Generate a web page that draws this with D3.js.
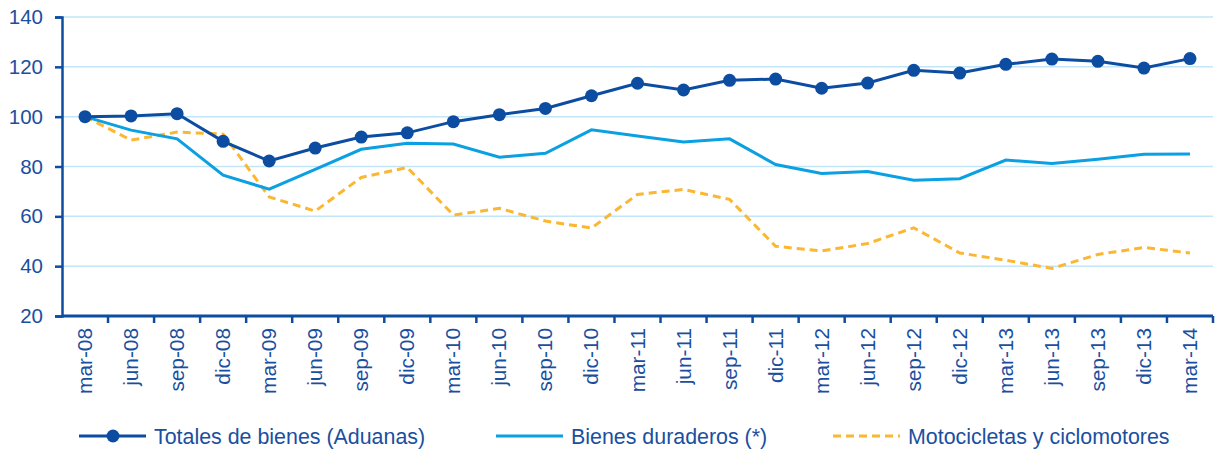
<!DOCTYPE html>
<html>
<head>
<meta charset="utf-8">
<script src="https://cdn.jsdelivr.net/npm/d3@7"></script>
<style>
  body { margin: 0; background: #fff; }
  text { font-family: "Liberation Sans", Arial, sans-serif; fill: #1a4f9f; }
</style>
</head>
<body>
<div id="chart"></div>
<script>
// categories (quarters)
var periods = ["mar-08", "jun-08", "sep-08", "dic-08", "mar-09", "jun-09", "sep-09", "dic-09",
  "mar-10", "jun-10", "sep-10", "dic-10", "mar-11", "jun-11", "sep-11", "dic-11",
  "mar-12", "jun-12", "sep-12", "dic-12", "mar-13", "jun-13", "sep-13", "dic-13", "mar-14"];

var totales = [100, 100.3, 101.2, 90.1, 82.2, 87.4, 91.8, 93.5, 98.0, 100.8, 103.3, 108.4,
  113.4, 110.7, 114.6, 115.1, 111.4, 113.5, 118.6, 117.5, 121.0, 123.1, 122.2, 119.5, 123.3];

var duraderos = [100, 94.6, 91.1, 76.5, 70.9, 78.8, 86.9, 89.3, 89.0, 83.7, 85.3, 94.7,
  92.2, 89.8, 91.1, 80.8, 77.2, 78.0, 74.5, 75.1, 82.6, 81.2, 82.9, 84.9, 85.0];

var motos = [100, 90.6, 93.8, 93.0, 67.8, 62.1, 75.6, 79.6, 60.5, 63.2, 58.1, 55.3,
  68.8, 70.8, 66.8, 48.0, 46.1, 49.1, 55.4, 45.3, 42.4, 39.1, 44.7, 47.5, 45.3];

var yTicks = [20, 40, 60, 80, 100, 120, 140];

var seriesNames = ["Totales de bienes (Aduanas)", "Bienes duraderos (*)", "Motocicletas y ciclomotores"];

var svgWidth = 1215;
var svgHeight = 449;

var margin = { top: 17, right: 2, bottom: 133, left: 62 };
var width = svgWidth - margin.left - margin.right;
var height = svgHeight - margin.top - margin.bottom;

var darkBlue = "#0c4da2";
var lightBlue = "#0aa0e2";
var orange = "#fbb731";

var svg = d3.select("#chart")
  .append("svg")
  .attr("width", svgWidth)
  .attr("height", svgHeight);

var chartGroup = svg.append("g")
  .attr("transform", `translate(${margin.left}, ${margin.top})`);

var xScale = d3.scaleBand()
  .domain(periods)
  .range([0, width]);

var yScale = d3.scaleLinear()
  .domain([20, 140])
  .range([height, 0]);

// gridlines
chartGroup.selectAll(".grid")
  .data(yTicks.filter(d => d > 20))
  .enter()
  .append("line")
  .attr("x1", 0)
  .attr("x2", width)
  .attr("y1", d => yScale(d))
  .attr("y2", d => yScale(d))
  .attr("stroke", "#c2e6f7")
  .attr("stroke-width", 1.5);

// y axis
var leftAxis = d3.axisLeft(yScale).tickValues(yTicks).tickSize(7).tickPadding(12);
var yAxis = chartGroup.append("g").call(leftAxis);
yAxis.select(".domain").attr("stroke", darkBlue).attr("stroke-width", 2.5);
yAxis.selectAll(".tick line").attr("stroke", darkBlue).attr("stroke-width", 2.5);
yAxis.selectAll(".tick text")
  .attr("font-size", 20.5)
  .style("fill", "#1a4f9f");

// x axis: ticks at band edges
var xAxis = chartGroup.append("g")
  .attr("transform", `translate(0, ${height})`);
xAxis.append("line")
  .attr("x1", 0).attr("x2", width)
  .attr("stroke", darkBlue).attr("stroke-width", 3);
xAxis.selectAll(".xtick")
  .data(periods)
  .enter()
  .append("line")
  .attr("x1", d => xScale(d) + xScale.bandwidth())
  .attr("x2", d => xScale(d) + xScale.bandwidth())
  .attr("y1", 0).attr("y2", 7)
  .attr("stroke", darkBlue).attr("stroke-width", 2.5);
xAxis.selectAll(".xlabel")
  .data(periods)
  .enter()
  .append("text")
  .attr("transform", d => `translate(${xScale(d) + xScale.bandwidth() / 2 + 7}, 12) rotate(-90)`)
  .attr("text-anchor", "end")
  .attr("font-size", 20.8)
  .text(d => d);

var xCenter = (d, i) => xScale(periods[i]) + xScale.bandwidth() / 2;

var line = d3.line()
  .x((d, i) => xCenter(d, i))
  .y(d => yScale(d));

chartGroup.append("path")
  .datum(motos)
  .attr("fill", "none")
  .attr("stroke", orange)
  .attr("stroke-width", 3)
  .attr("stroke-dasharray", "8,5")
  .attr("d", line);

chartGroup.append("path")
  .datum(duraderos)
  .attr("fill", "none")
  .attr("stroke", lightBlue)
  .attr("stroke-width", 3)
  .attr("d", line);

chartGroup.append("path")
  .datum(totales)
  .attr("fill", "none")
  .attr("stroke", darkBlue)
  .attr("stroke-width", 3)
  .attr("d", line);

chartGroup.selectAll(".dot")
  .data(totales)
  .enter()
  .append("circle")
  .attr("cx", (d, i) => xCenter(d, i))
  .attr("cy", d => yScale(d))
  .attr("r", 6.5)
  .attr("fill", darkBlue);

// legend
var legendY = 436;
var legend = svg.append("g");
var legendItems = [
  { x: 79, color: darkBlue, dash: null, dot: true },
  { x: 496, color: lightBlue, dash: null, dot: false },
  { x: 833, color: orange, dash: "8,5", dot: false }
];
legendItems.forEach(function(item, i) {
  legend.append("line")
    .attr("x1", item.x).attr("x2", item.x + 67)
    .attr("y1", legendY).attr("y2", legendY)
    .attr("stroke", item.color)
    .attr("stroke-width", 3)
    .attr("stroke-dasharray", item.dash);
  if (item.dot) {
    legend.append("circle")
      .attr("cx", item.x + 34).attr("cy", legendY)
      .attr("r", 6.5).attr("fill", item.color);
  }
  legend.append("text")
    .attr("x", item.x + 75)
    .attr("y", legendY + 7.5)
    .attr("font-size", 21.4)
    .text(seriesNames[i]);
});
</script>
</body>
</html>
